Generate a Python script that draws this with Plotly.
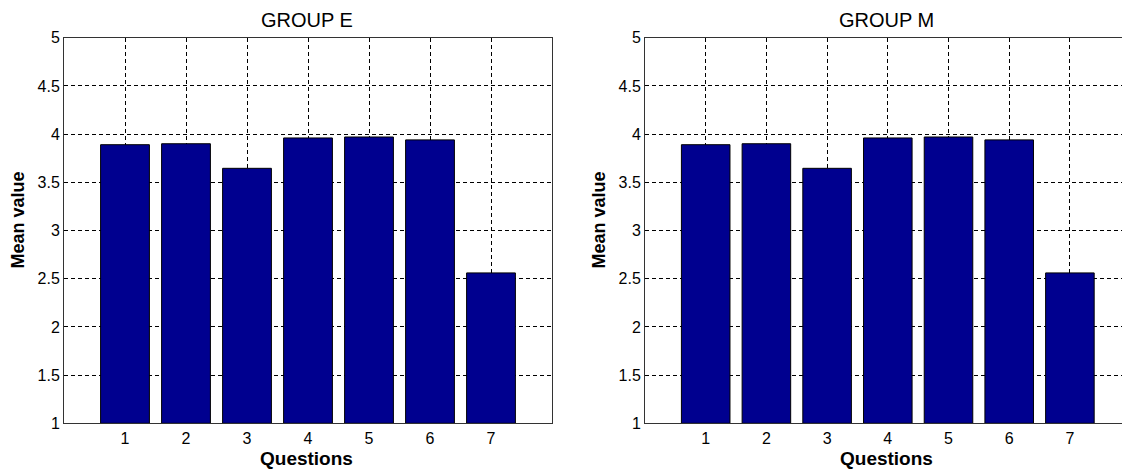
import plotly.graph_objects as go

questions = [1, 2, 3, 4, 5, 6, 7]
group_e = [3.89, 3.90, 3.645, 3.96, 3.97, 3.94, 2.56]
group_m = [3.89, 3.90, 3.645, 3.96, 3.97, 3.94, 2.56]
titles = ["GROUP E", "GROUP M"]
x_title = "Questions"
y_title = "Mean value"
y_ticks = [1, 1.5, 2, 2.5, 3, 3.5, 4, 4.5, 5]
y_tick_labels = ["1", "1.5", "2", "2.5", "3", "3.5", "4", "4.5", "5"]

W, H = 1130, 473
OFF = 8  # page body margin
FONT = "Liberation Sans, Arial, sans-serif"
BAR_COLOR = "#00008F"


def px(x):
    return (x - OFF) / W


def py(y):
    return 1 - (y - OFF) / H


fig = go.Figure()
for i, vals in enumerate([group_e, group_m]):
    sfx = "" if i == 0 else "2"
    fig.add_trace(go.Bar(x=questions, y=[v - 1 for v in vals], base=1, width=0.8,
                         marker=dict(color=BAR_COLOR, line=dict(color="black", width=1)),
                         xaxis="x" + sfx, yaxis="y" + sfx, showlegend=False))

ydom = [py(423.3), py(37.7)]
xdom1 = [px(64), px(552)]
xdom2 = [px(645), min(1.0, px(1130.6))]

common_x = dict(range=[0, 8], tickmode="array", tickvals=questions,
                ticktext=[str(q) for q in questions], automargin=False,
                showgrid=True, gridcolor="black", griddash="4px,3px", gridwidth=1,
                showline=True, linecolor="#333333", linewidth=1, mirror=True,
                ticks="", zeroline=False,
                tickfont=dict(family=FONT, size=16, color="black"))
common_y = dict(range=[1, 5], tickmode="array", tickvals=y_ticks, ticktext=y_tick_labels,
                automargin=False,
                showgrid=True, gridcolor="black", griddash="4px,3px", gridwidth=1,
                showline=True, linecolor="#333333", linewidth=1, mirror=True,
                ticks="", zeroline=False,
                tickfont=dict(family=FONT, size=16, color="black"))

annotations = []
for i, (ax_left, ax_title_x) in enumerate([(64, 306.5), (645, 886)]):
    annotations.append(dict(text=titles[i], x=px(ax_title_x), y=1.0, xref="paper", yref="paper",
                            xanchor="center", yanchor="top", showarrow=False, borderpad=0,
                            font=dict(family=FONT, size=20, color="black")))
    annotations.append(dict(text="<b>" + x_title + "</b>", x=px(ax_title_x), y=py(458), xref="paper",
                            yref="paper", xanchor="center", yanchor="middle", showarrow=False,
                            font=dict(family=FONT, size=19, color="black")))
    annotations.append(dict(text="<b>" + y_title + "</b>", x=px(ax_left - 46.5), y=py(220), xref="paper",
                            yref="paper", xanchor="center", yanchor="middle", showarrow=False,
                            textangle=-90, font=dict(family=FONT, size=18, color="black")))

fig.update_layout(
    template="none",
    width=W, height=H,
    margin=dict(l=0, r=0, t=0, b=0),
    paper_bgcolor="white", plot_bgcolor="white",
    xaxis=dict(domain=xdom1, anchor="y", **common_x),
    yaxis=dict(domain=ydom, anchor="x", **common_y),
    xaxis2=dict(domain=xdom2, anchor="y2", **common_x),
    yaxis2=dict(domain=ydom, anchor="x2", **common_y),
    bargap=0.2,
    annotations=annotations,
)

fig.write_html("out.html")
